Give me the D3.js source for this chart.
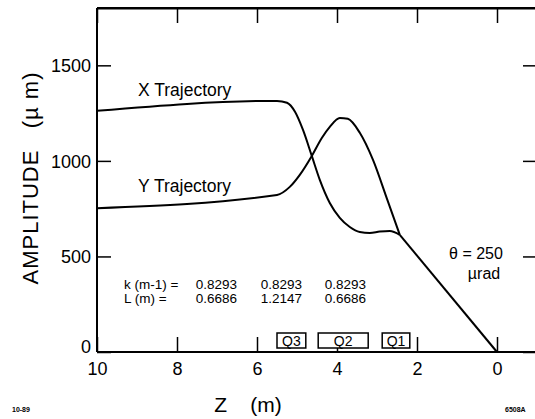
<!DOCTYPE html>
<html><head><meta charset="utf-8">
<script src="https://cdn.jsdelivr.net/npm/d3@7"></script>
<style>
body{margin:0;background:#fff;}
text{font-family:"Liberation Sans",Arial,Helvetica,sans-serif;fill:#000;}
</style></head>
<body><svg id="c" width="535" height="419"></svg>
<script>
const xTicks=[10,8,6,4,2,0];
const yTicks=[0,500,1000,1500];
const xTrajZ=[10,5.5,5.25,5.05,4.85,4.63,4.43,4.18,3.93,3.68,3.43,3.18,2.93,2.68,2.43];
const xTrajA=[1262,1314,1304,1257,1162,1026,901,780,702,654,628,623,630,633,613];
const yTrajZ=[10,5.5,5.18,4.93,4.63,4.38,4.18,3.93,3.73,3.43,3.1,2.75,2.43];
const yTrajA=[752,822,864,927,1026,1120,1178,1225,1220,1147,1005,801,613];
const driftZ=[2.43,0];
const driftA=[613,0];
const quadNames=["Q3","Q2","Q1"];
const quadStart=[5.5,4.47,2.87];
const quadEnd=[4.78,3.22,2.18];
const kRow=["k (m-1) =","0.8293","0.8293","0.8293"];
const lRow=["L (m) =","0.6686","1.2147","0.6686"];

const svg=d3.select("#c");
const x=d3.scaleLinear().domain([10,-1]).range([97,537]);
const y=d3.scaleLinear().domain([0,1800]).range([352,8]);

svg.append("line").attr("x1",97).attr("x2",537).attr("y1",8).attr("y2",8).attr("stroke","#000").attr("stroke-width",2);
svg.append("line").attr("x1",537).attr("x2",537).attr("y1",8).attr("y2",352).attr("stroke","#000").attr("stroke-width",2);

const fmt=d3.format("d");
const gl=svg.append("g").attr("transform","translate(97,0)")
 .call(d3.axisLeft(y).tickValues(yTicks).tickFormat(fmt).tickSizeInner(-14).tickSizeOuter(0).tickPadding(6));
const gb=svg.append("g").attr("transform","translate(0,352)")
 .call(d3.axisBottom(x).tickValues(xTicks).tickFormat(fmt).tickSizeInner(-15).tickSizeOuter(0).tickPadding(12));
const gt=svg.append("g").attr("transform","translate(0,8)")
 .call(d3.axisTop(x).tickValues(xTicks).tickSizeInner(-15).tickSizeOuter(0).tickFormat(""));
const gr=svg.append("g").attr("transform","translate(537,0)")
 .call(d3.axisRight(y).tickValues(yTicks).tickSizeInner(-14).tickSizeOuter(0).tickFormat(""));
[gl,gb,gt,gr].forEach(g=>{
  g.selectAll("path.domain").attr("stroke","#000").attr("stroke-width",2);
  g.selectAll(".tick line").attr("stroke","#000").attr("stroke-width",1.5);
  g.selectAll(".tick text").attr("font-size",18).attr("fill","#000").style("font-family","'Liberation Sans',Arial,sans-serif");
});
gl.select("path.domain").attr("d",`M0,${y(0)}V8`);
gb.select("path.domain").attr("d",`M97,0H537`);
gl.selectAll(".tick text").attr("dy",d=>d===0?"0.05em":"0.35em");
gb.selectAll(".tick text").attr("dy","0.6em");

const line=d3.line().x(d=>x(d[0])).y(d=>y(d[1])).curve(d3.curveMonotoneX);
const lin=d3.line().x(d=>x(d[0])).y(d=>y(d[1]));
svg.append("path").datum(xTrajZ.map((z,i)=>[z,xTrajA[i]])).attr("d",line)
  .attr("fill","none").attr("stroke","#000").attr("stroke-width",2);
svg.append("path").datum(yTrajZ.map((z,i)=>[z,yTrajA[i]])).attr("d",line)
  .attr("fill","none").attr("stroke","#000").attr("stroke-width",2);
svg.append("path").datum(driftZ.map((z,i)=>[z,driftA[i]])).attr("d",lin)
  .attr("fill","none").attr("stroke","#000").attr("stroke-width",2);

quadNames.forEach((q,i)=>{
  const x0=x(quadStart[i]),x1=x(quadEnd[i]);
  svg.append("rect").attr("x",x0).attr("y",333).attr("width",x1-x0).attr("height",15)
    .attr("fill","#fff").attr("stroke","#000").attr("stroke-width",1.5);
  svg.append("text").attr("x",(x0+x1)/2).attr("y",346).attr("text-anchor","middle")
    .attr("font-size",14).text(q);
});

svg.append("text").attr("transform","translate(38,178) rotate(-90)").attr("text-anchor","middle")
  .attr("font-size",22).attr("letter-spacing",1).attr("xml:space","preserve").text("AMPLITUDE   (\u00b5 m)");
svg.append("text").attr("x",248).attr("y",412).attr("text-anchor","middle").attr("font-size",21)
  .attr("xml:space","preserve").text("Z    (m)");
svg.append("text").attr("x",138).attr("y",96).attr("font-size",17.5).text("X Trajectory");
svg.append("text").attr("x",138).attr("y",192).attr("font-size",17.5).text("Y Trajectory");
const colR=[null,237,302,366];
kRow.forEach((t,i)=>svg.append("text").attr("x",i==0?124:colR[i]).attr("text-anchor",i==0?"start":"end")
  .attr("y",289).attr("font-size",13.5).text(t));
lRow.forEach((t,i)=>svg.append("text").attr("x",i==0?124:colR[i]).attr("text-anchor",i==0?"start":"end")
  .attr("y",303).attr("font-size",13.5).text(t));
svg.append("text").attr("x",476).attr("y",259).attr("text-anchor","middle").attr("font-size",16).text("\u03b8 = 250");
svg.append("text").attr("x",484).attr("y",279).attr("text-anchor","middle").attr("font-size",16).text("\u00b5rad");
svg.append("text").attr("x",12).attr("y",412).attr("font-size",7).attr("font-weight","bold").text("10-89");
svg.append("text").attr("x",505).attr("y",412).attr("font-size",7).attr("font-weight","bold").text("6508A");
</script></body></html>
